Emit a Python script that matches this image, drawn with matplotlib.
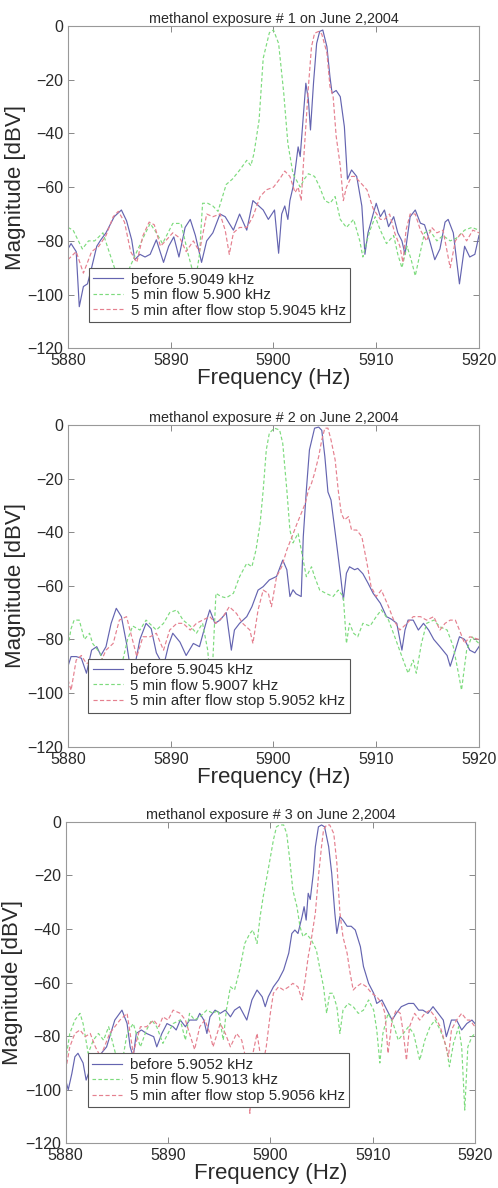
import matplotlib
matplotlib.use('Agg')
import matplotlib.pyplot as plt

plt.rcParams['font.family'] = ['Liberation Sans', 'DejaVu Sans']

# Three exposures, each with before / during flow / after flow spectra (Hz, dBV)
titles = ['methanol exposure # 1 on June 2,2004',
          'methanol exposure # 2 on June 2,2004',
          'methanol exposure # 3 on June 2,2004']

labels = [
    ['before 5.9049 kHz', '5 min flow 5.900 kHz', '5 min after flow stop 5.9045 kHz'],
    ['before 5.9045 kHz', '5 min flow 5.9007 kHz', '5 min after flow stop 5.9052 kHz'],
    ['before 5.9052 kHz', '5 min flow 5.9013 kHz', '5 min after flow stop 5.9056 kHz'],
]

p1_before = [(5880, -83), (5880.3, -81), (5880.8, -84), (5881.1, -104.5), (5881.5, -97), (5881.9, -96),
             (5882.3, -90), (5882.8, -82), (5883.2, -79.6), (5883.7, -77), (5884.5, -71), (5885.2, -68.5),
             (5885.7, -72.5), (5886.2, -79.6), (5886.5, -87), (5887.0, -85), (5887.5, -86), (5888.0, -85),
             (5888.6, -79.6), (5889.3, -88), (5889.8, -82), (5890.3, -78.5), (5890.8, -86), (5891.4, -75),
             (5891.9, -72), (5892.4, -78), (5893.0, -88), (5893.5, -80), (5894.1, -77), (5894.8, -70),
             (5895.3, -71), (5896.1, -76), (5896.7, -70), (5897.4, -76), (5898.0, -65), (5899.0, -68.5),
             (5899.5, -72), (5900.1, -68.5), (5900.5, -84.6), (5900.8, -70), (5901.1, -67), (5901.4, -72),
             (5901.6, -65), (5901.9, -60), (5902.4, -45), (5902.6, -48.6), (5902.9, -33.7), (5903.15, -21.3),
             (5903.4, -27.5), (5903.6, -38.7), (5903.9, -21), (5904.2, -6.5), (5904.5, -2), (5904.8, -1.5),
             (5905.2, -7.7), (5905.5, -19), (5905.7, -25), (5906.1, -24), (5906.5, -26.3), (5906.9, -37.5),
             (5907.2, -57), (5907.6, -53.6), (5908.1, -56), (5908.6, -67), (5908.9, -85), (5909.2, -77),
             (5909.7, -70), (5910.0, -66), (5910.4, -71), (5910.8, -68.5), (5911.2, -74.7), (5911.7, -71),
             (5912.1, -77), (5912.5, -80), (5912.8, -85), (5913.3, -71), (5913.8, -68.5), (5914.3, -73.4),
             (5914.7, -74), (5915.2, -80), (5915.7, -87), (5916.2, -83), (5916.7, -73), (5917.0, -72),
             (5917.5, -77), (5918.1, -96), (5918.6, -82), (5919.1, -86), (5919.6, -85), (5920, -78)]

p1_flow = [(5880, -75), (5880.5, -76), (5881.4, -83), (5882.0, -80), (5882.6, -80), (5883.4, -77),
           (5884.0, -84), (5884.7, -92), (5885.3, -97), (5886.0, -90), (5886.7, -84), (5887.3, -79),
           (5888.0, -73.5), (5888.6, -77), (5889.2, -81), (5889.6, -78), (5890.2, -73.5), (5891.0, -73.5),
           (5891.7, -85), (5892.4, -95), (5892.8, -85), (5893.1, -66), (5893.6, -66), (5894.1, -67),
           (5894.6, -69), (5895.4, -59), (5896.0, -57), (5896.7, -53.7), (5897.4, -50), (5897.8, -52),
           (5898.1, -47.5), (5898.6, -35), (5899.0, -12), (5899.6, -2.5), (5900.0, -1.5), (5900.5, -6.5),
           (5901.0, -25), (5901.4, -43.7), (5901.9, -55), (5902.6, -60), (5903.0, -57), (5903.4, -55),
           (5904.0, -56), (5904.5, -60), (5905.0, -65), (5905.5, -66), (5906.0, -63.5), (5906.5, -72),
           (5907.1, -75), (5907.8, -72), (5908.4, -80), (5908.7, -86), (5909.1, -80), (5909.4, -76),
           (5909.9, -71), (5910.4, -76), (5911.0, -81), (5911.7, -78), (5912.1, -85), (5912.5, -90),
           (5913.0, -82), (5913.4, -87), (5913.8, -93), (5914.3, -84), (5914.7, -77), (5915.2, -76),
           (5915.9, -80), (5916.5, -78), (5917.2, -80), (5917.8, -79), (5918.6, -76), (5919.3, -75),
           (5920, -76)]

p1_after = [(5880, -87), (5880.8, -84), (5881.5, -92), (5882.3, -84), (5883.0, -82), (5883.7, -78),
            (5884.4, -71), (5884.9, -69), (5885.5, -73), (5886.1, -84), (5886.7, -88), (5887.3, -78),
            (5887.9, -73), (5888.4, -74), (5889.0, -82), (5889.5, -80), (5890.2, -77), (5890.9, -79),
            (5891.5, -84), (5892.2, -80), (5892.8, -84), (5893.5, -70), (5894.1, -71), (5894.8, -70),
            (5895.3, -76), (5895.7, -85), (5896.1, -77), (5896.7, -75), (5897.4, -75), (5898.0, -71),
            (5898.7, -63.5), (5899.3, -61), (5900.0, -60), (5900.6, -57), (5901.1, -54), (5901.6, -56),
            (5902.1, -62), (5902.4, -60), (5902.7, -65), (5903.0, -46), (5903.4, -22.6), (5903.7, -7.7),
            (5904.0, -2.7), (5904.4, -2), (5904.7, -3), (5905.2, -10), (5905.5, -22.6), (5905.8, -26),
            (5906.1, -41), (5906.5, -52), (5906.8, -65), (5907.1, -60), (5907.6, -56), (5907.9, -56),
            (5908.4, -58), (5909.1, -61), (5909.7, -68), (5910.4, -72), (5910.8, -72), (5911.3, -70),
            (5911.8, -77), (5912.3, -82), (5912.6, -88), (5912.9, -76), (5913.3, -70), (5913.8, -70),
            (5914.3, -76), (5914.9, -80), (5915.4, -75), (5915.9, -77), (5916.5, -76), (5917.2, -90),
            (5917.7, -80), (5918.3, -77), (5918.8, -80), (5919.4, -76), (5920, -77)]

p2_before = [(5880, -90), (5880.3, -86.4), (5880.8, -86.4), (5881.3, -87), (5881.8, -92.6), (5882.3, -84),
             (5882.8, -82.7), (5883.2, -86), (5883.7, -82.7), (5884.2, -74), (5884.7, -68.4), (5885.2, -71.5),
             (5885.7, -81.5), (5886.0, -89), (5886.5, -90), (5887.0, -80), (5887.6, -74), (5888.1, -76),
             (5888.6, -85), (5889.3, -90), (5889.8, -82), (5890.2, -77.7), (5890.9, -81), (5891.5, -86),
             (5892.2, -81.5), (5892.8, -82.7), (5893.5, -72.8), (5893.8, -69), (5894.3, -74), (5894.8, -72.8),
             (5895.4, -70), (5895.9, -84), (5896.2, -76.5), (5896.7, -74), (5897.4, -71.5), (5897.9, -67.8),
             (5898.5, -61.6), (5899.0, -60.3), (5899.6, -57.8), (5900.3, -56.5), (5900.9, -50.4), (5901.3, -54),
             (5901.6, -64), (5901.9, -61.5), (5902.2, -63), (5902.7, -64), (5902.9, -41.7), (5903.2, -24.3),
             (5903.5, -9.3), (5904.0, -1.2), (5904.4, -0.8), (5904.7, -2), (5905.0, -11.8), (5905.3, -25),
             (5905.6, -28), (5906.1, -43), (5906.5, -55.3), (5906.8, -65.3), (5907.1, -55.3), (5907.4, -52.9),
             (5907.9, -54), (5908.2, -53.5), (5908.7, -55.5), (5909.2, -59), (5909.7, -62.8), (5910.4, -66.5),
             (5911.0, -71.5), (5911.5, -72.5), (5912.0, -74), (5912.5, -84), (5912.8, -76.5), (5913.1, -72.8),
             (5913.6, -72.8), (5914.1, -76.5), (5914.6, -74), (5915.1, -76.5), (5915.6, -80), (5916.2, -82.7),
             (5916.9, -86), (5917.2, -90), (5917.7, -84), (5918.1, -79), (5918.6, -80), (5919.1, -84),
             (5919.6, -85), (5920, -82.7)]

p2_flow = [(5880, -82.7), (5880.3, -76), (5880.6, -72.8), (5881.1, -72.8), (5881.6, -80), (5882.1, -77.7),
           (5882.4, -81.5), (5883.1, -85), (5883.8, -92), (5884.5, -95), (5885.2, -90), (5885.8, -80),
           (5886.3, -75), (5887.0, -76.5), (5887.6, -72.8), (5888.6, -76.5), (5889.3, -74), (5889.9, -70),
           (5890.6, -69), (5891.2, -72.8), (5891.9, -75), (5892.5, -77.7), (5893.1, -74), (5893.6, -84),
           (5893.95, -100), (5894.4, -62.8), (5894.9, -64), (5895.4, -64.5), (5896.1, -62.8), (5896.7, -56.6),
           (5897.4, -51.6), (5897.9, -52.9), (5898.3, -46.6), (5898.7, -36.7), (5899.0, -24.3), (5899.3, -9.3),
           (5899.6, -3), (5900.1, -1.2), (5900.6, -1.9), (5900.9, -6.8), (5901.3, -24.3), (5901.6, -39.2),
           (5901.9, -44), (5902.4, -40.4), (5902.7, -46.6), (5903.2, -56.6), (5903.7, -52.9), (5904.0, -56.6),
           (5904.5, -61.6), (5905.2, -63), (5905.8, -64), (5906.3, -61.6), (5906.8, -64), (5907.1, -81.5),
           (5907.4, -74), (5907.8, -77.7), (5908.2, -79), (5908.7, -74), (5909.4, -75), (5910.0, -71.5),
           (5910.5, -69), (5911.2, -72.8), (5911.8, -79), (5912.5, -86.4), (5913.1, -92.6), (5913.6, -87.7),
           (5913.9, -92.6), (5914.4, -81.5), (5914.9, -74), (5915.6, -72.8), (5916.2, -75.3), (5916.9, -76.5),
           (5917.5, -82.7), (5918.0, -92.6), (5918.3, -98.9), (5918.8, -84), (5919.3, -79), (5920, -81.5)]

p2_after = [(5880, -95), (5880.3, -99), (5880.8, -87.7), (5881.3, -86), (5881.8, -89), (5882.5, -88),
            (5883.0, -90), (5883.7, -84), (5884.4, -81.5), (5885.0, -72.8), (5885.7, -71.5), (5886.2, -79),
            (5886.7, -86.4), (5887.3, -79), (5888.0, -79), (5888.6, -77.7), (5889.3, -84), (5889.9, -76.5),
            (5890.6, -74), (5891.2, -74), (5891.9, -76.5), (5892.5, -74), (5893.1, -72.8), (5893.8, -71.5),
            (5894.4, -74), (5895.1, -71.5), (5895.7, -67.8), (5896.4, -70.3), (5897.0, -74), (5897.7, -76.5),
            (5898.0, -81.5), (5898.5, -69), (5899.0, -61.6), (5899.5, -62.8), (5899.8, -67.8), (5900.3, -56.6),
            (5900.8, -52.9), (5901.3, -46.6), (5901.8, -41.7), (5902.3, -36.7), (5902.7, -33), (5903.1, -29.2),
            (5903.4, -24.3), (5903.7, -21.8), (5904.0, -18), (5904.4, -11.8), (5904.7, -5.6), (5905.0, -1.2),
            (5905.3, -1.2), (5905.6, -5.6), (5906.0, -13), (5906.3, -24.3), (5906.6, -33), (5906.9, -35.4),
            (5907.3, -34.2), (5907.6, -39.2), (5908.1, -39.2), (5908.6, -41.7), (5909.1, -51.6), (5909.5, -60.3),
            (5910.0, -64), (5910.5, -61.6), (5911.2, -67.8), (5911.7, -72.8), (5912.3, -76.5), (5913.0, -74),
            (5913.6, -71.5), (5914.3, -71.5), (5914.9, -72.8), (5915.6, -71.5), (5916.2, -76.5), (5916.7, -74),
            (5917.2, -72.8), (5917.7, -72.8), (5918.1, -76.5), (5918.6, -81.5), (5919.1, -79), (5920, -80)]

p3_before = [(5880, -96.4), (5880.25, -100), (5880.6, -94), (5880.9, -87.7), (5881.2, -86.4), (5881.7, -90),
             (5882.0, -96.4), (5882.5, -91), (5883.2, -87.7), (5884.0, -84), (5884.8, -74), (5885.5, -70.3),
             (5886.0, -75.3), (5886.3, -84), (5886.6, -87.7), (5886.9, -79), (5887.4, -77.7), (5887.9, -79),
             (5888.6, -80.2), (5888.9, -84), (5889.4, -79), (5889.9, -75.3), (5890.5, -76.5), (5890.8, -77.7),
             (5891.2, -74), (5891.7, -76.5), (5892.1, -74), (5892.8, -74), (5893.1, -71.5), (5893.5, -74),
             (5893.8, -79), (5894.1, -72.8), (5894.6, -70.3), (5895.1, -71.5), (5895.6, -70.3), (5896.1, -72.8),
             (5896.5, -70.3), (5897.0, -69), (5897.7, -74), (5898.2, -66.5), (5898.7, -62.8), (5899.2, -65.3),
             (5899.5, -69), (5899.8, -65.3), (5900.3, -61.6), (5900.8, -59), (5901.3, -55.3), (5901.8, -49),
             (5902.1, -41.7), (5902.4, -40.4), (5902.7, -41.7), (5903.1, -35.4), (5903.3, -31.7), (5903.5, -36.7),
             (5903.7, -26.7), (5903.9, -29), (5904.2, -19.3), (5904.4, -9.3), (5904.7, -1.9), (5905.0, -1.2),
             (5905.3, -1.9), (5905.7, -9.3), (5906.0, -19.3), (5906.3, -34), (5906.5, -41.7), (5906.8, -35.4),
             (5907.1, -36.7), (5907.5, -39), (5907.9, -39), (5908.3, -40.4), (5908.8, -46.6), (5909.1, -54),
             (5909.6, -60.3), (5910.1, -64), (5910.4, -67.8), (5910.9, -66.5), (5911.4, -70.3), (5911.9, -74),
             (5912.3, -71.5), (5912.8, -69), (5913.5, -67.8), (5914.0, -67.8), (5914.5, -70.3), (5914.9, -70.3),
             (5915.4, -71.5), (5915.9, -69), (5916.4, -71.5), (5916.9, -74), (5917.2, -80.2), (5917.7, -74),
             (5918.2, -74), (5918.7, -77.7), (5919.2, -75.3), (5919.7, -74), (5920, -75.3)]

p3_flow = [(5880, -89), (5880.4, -79), (5880.9, -74), (5881.4, -71.5), (5881.7, -75.3), (5882.2, -86.4),
           (5882.7, -81.5), (5883.2, -79), (5883.7, -81.5), (5884.2, -76.5), (5884.7, -84), (5885.1, -90),
           (5885.6, -88), (5886.0, -79), (5886.6, -75.3), (5887.3, -84), (5887.9, -77.7), (5888.4, -74),
           (5888.9, -76.5), (5889.5, -82.7), (5890.0, -79), (5890.5, -75.3), (5891.2, -74), (5891.7, -81.5),
           (5892.1, -71.5), (5892.6, -74), (5893.1, -72.8), (5893.8, -70.3), (5894.4, -71.5), (5894.9, -70.3),
           (5895.4, -81.5), (5895.7, -70.3), (5896.1, -61.6), (5896.5, -62.8), (5897.0, -55.3), (5897.5, -45.4),
           (5898.0, -41.7), (5898.3, -40.4), (5898.7, -45.4), (5899.0, -35.4), (5899.3, -28), (5899.6, -21.8),
           (5899.9, -15.5), (5900.3, -6.8), (5900.6, -1.9), (5900.9, -1.2), (5901.3, -1.2), (5901.6, -4.4),
           (5901.9, -14.3), (5902.2, -25.5), (5902.6, -31.7), (5902.9, -39.2), (5903.2, -42.9), (5903.5, -41.7),
           (5904.0, -44), (5904.5, -47.9), (5904.8, -54), (5905.2, -61.6), (5905.5, -71.5), (5905.8, -64),
           (5906.1, -64), (5906.5, -69), (5906.8, -79), (5907.1, -70.3), (5907.6, -67.8), (5908.1, -69),
           (5908.6, -71.5), (5909.1, -70.3), (5909.6, -66.5), (5910.1, -70.3), (5910.4, -77.7), (5910.7, -90),
           (5911.0, -79), (5911.5, -71.5), (5912.0, -75.3), (5912.5, -81.5), (5913.0, -79), (5913.5, -76.5),
           (5914.0, -79), (5914.6, -89), (5915.1, -81.5), (5915.6, -76.5), (5916.1, -74), (5916.6, -77.7),
           (5917.2, -84), (5917.5, -91.4), (5917.9, -82.7), (5918.4, -76.5), (5918.7, -84), (5919.0, -107.6),
           (5919.3, -84), (5919.7, -80.2), (5920, -79)]

p3_after = [(5880, -92.7), (5880.4, -84), (5880.9, -79), (5881.4, -77.7), (5881.9, -80.2), (5882.4, -79),
            (5882.9, -84), (5883.4, -87.7), (5884.3, -79), (5885.3, -74), (5886.0, -71.5), (5886.3, -79),
            (5886.6, -86.4), (5887.3, -76.5), (5887.9, -76.5), (5888.6, -74), (5889.1, -76.5), (5889.5, -72.8),
            (5890.0, -74), (5890.5, -70.3), (5891.2, -71.5), (5891.7, -74), (5892.1, -79), (5892.6, -85),
            (5893.1, -76.5), (5893.6, -74), (5894.1, -79), (5894.4, -84), (5895.1, -75.3), (5895.6, -79),
            (5896.1, -84), (5896.7, -79), (5897.2, -81.5), (5897.7, -90), (5898.0, -108.8), (5898.3, -86.4),
            (5898.7, -79), (5899.0, -86.4), (5899.3, -90), (5899.6, -84), (5900.0, -71.5), (5900.3, -64),
            (5900.8, -61.6), (5901.3, -62.8), (5901.8, -61.6), (5902.2, -60.3), (5902.7, -61.6), (5903.1, -66.5),
            (5903.4, -59), (5903.7, -50.4), (5904.0, -44), (5904.4, -34), (5904.7, -20.5), (5905.0, -9.3),
            (5905.2, -3), (5905.5, -1.2), (5905.8, -1.2), (5906.2, -4.4), (5906.5, -15.5), (5906.8, -34),
            (5907.1, -43), (5907.5, -49), (5907.8, -56.6), (5908.1, -62.8), (5908.4, -61.6), (5908.9, -60.3),
            (5909.4, -61.6), (5909.9, -64), (5910.4, -65.3), (5910.9, -67.8), (5911.2, -71.5), (5911.5, -86.4),
            (5911.9, -74), (5912.3, -70.3), (5912.7, -71.5), (5913.0, -79), (5913.3, -89), (5913.6, -76.5),
            (5914.1, -71.5), (5914.6, -74), (5915.1, -71.5), (5915.6, -70.3), (5916.1, -72.8), (5916.6, -76.5),
            (5917.0, -81.5), (5917.4, -87.7), (5917.7, -77.7), (5918.2, -74), (5918.7, -71.5), (5919.2, -74),
            (5919.5, -74), (5920, -76.5)]

panels = [(p1_before, p1_flow, p1_after),
          (p2_before, p2_flow, p2_after),
          (p3_before, p3_flow, p3_after)]

boxes = [[0.1365, 0.7068, 0.8253, 0.2713],
         [0.1365, 0.3715, 0.8253, 0.2708],
         [0.1319, 0.0376, 0.8219, 0.2707]]
legend_anchor = [(0.051, 0.081), (0.049, 0.106), (0.054, 0.112)]

styles = [dict(color='#6464b0', lw=0.85, ls='-'),
          dict(color='#7ddb7d', lw=0.85, ls=(0, (3, 2))),
          dict(color='#e5808f', lw=0.85, ls=(0, (3.5, 2)))]

fig = plt.figure(figsize=(4.98, 11.88), dpi=100)

for i in range(3):
    ax = fig.add_axes(boxes[i])
    for series, st, lab in zip(panels[i], styles, labels[i]):
        f = [p[0] for p in series]
        m = [p[1] for p in series]
        ax.plot(f, m, label=lab, **st)
    ax.set_xlim(5880, 5920)
    ax.set_ylim(-120, 0)
    ax.set_xticks([5880, 5890, 5900, 5910, 5920])
    ax.set_yticks([0, -20, -40, -60, -80, -100, -120])
    ax.tick_params(direction='in', top=True, right=True, length=4, width=0.7,
                   color='#888888', labelsize=11.5, labelcolor='#2a2a2a', pad=3.5)
    for sp in ax.spines.values():
        sp.set_color('#999999')
        sp.set_linewidth(0.8)
    ax.set_title(titles[i], fontsize=10.4, pad=2, color='#2a2a2a')
    ax.set_xlabel('Frequency (Hz)', fontsize=16, labelpad=0, color='#2a2a2a')
    ax.set_ylabel('Magnitude [dBV]', fontsize=16, labelpad=1, color='#2a2a2a')
    leg = ax.legend(loc='lower left', bbox_to_anchor=legend_anchor[i], borderaxespad=0,
                    fontsize=10.8, fancybox=False, framealpha=1, edgecolor='#555555',
                    labelspacing=0.1, handlelength=2.0, handletextpad=0.5,
                    borderpad=0.3)
    leg.get_frame().set_linewidth(0.8)
    for t in leg.get_texts():
        t.set_color('#2a2a2a')

fig.savefig('out.png', dpi=100)
